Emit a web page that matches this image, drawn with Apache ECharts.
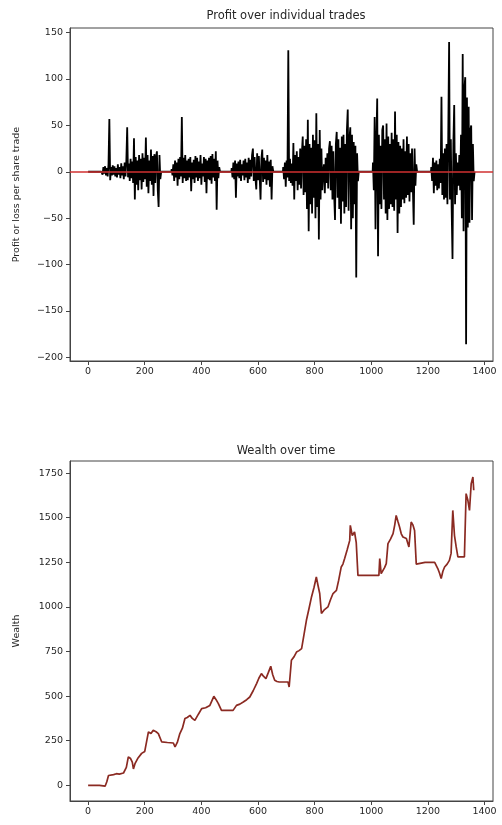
<!DOCTYPE html>
<html><head><meta charset="utf-8">
<script src="https://cdn.jsdelivr.net/npm/echarts@6/dist/echarts.min.js"></script>
<style>html,body{margin:0;padding:0;background:#fff}#c{width:502px;height:825px}</style>
</head><body><div id="c"></div>
<script>
// ---- tick labels ----
const xTicks = [0, 200, 400, 600, 800, 1000, 1200, 1400];
const profitTicks = [-200, -150, -100, -50, 0, 50, 100, 150];
const wealthTicks = [0, 250, 500, 750, 1000, 1250, 1500, 1750];

// ---- profit per trade (clusters of trades, one value every 3 trade numbers) ----
const clusterStart = [48, 295, 507, 689, 833, 1006, 1212];
const tradeStep = 3;
const clusterA = [2,-3,5,-2,6,-4,4,-5,8,57,-9,5,-4,7,-3,6,-5,4,-6,8,-3,5,-7,9,-4,6,-8,10,-5,12,48,-6,9,-10,14,-7,11,-12,36,-30,16,-14,12,-20,18,-9,14,-19,20,-11,15,-8,37,-16,18,-23,12,-10,24,-14,17,-26,19,-12,16,22,-20,-38,18,-8];
const clusterB = [3,-4,8,-10,12,-6,10,-15,14,-8,16,-5,59,-12,15,-7,18,-10,12,-9,14,-6,16,-21,10,-8,13,-12,17,-6,15,-10,11,-7,18,-14,9,-5,16,-11,14,-23,12,-8,15,-9,17,-13,19,-6,14,-10,22,-41,12,-7,5];
const clusterC = [4,-6,10,-8,12,-28,9,-5,11,-7,13,-10,8,-4,12,-9,14,-6,10,-12,15,-8,13,-5,18,25,-10,16,-7,-19,20,-9,17,-6,-30,14,24,-11,15,-8,12,-14,18,-9,11,-16,13,-30,6];
const clusterD = [5,-8,10,-16,12,-6,131,-10,14,-12,9,-15,31,-30,18,-10,22,-20,16,-14,25,-18,20,38,-25,28,-22,35,-40,56,-64,30,-35,26,-45,40,-28,34,-50,63,-38,30,-73,45,-30,25,-20];
const clusterE = [8,-23,15,-12,20,-18,25,33,-20,28,-30,22,-25,-52,30,43,-28,35,-40,26,-56,38,-32,40,-45,30,-38,45,67,-42,35,48,-62,40,-50,32,-35,28,-114,20,-10];
const clusterF = [10,-20,59,-62,30,79,-91,40,-35,28,-40,45,50,-30,35,-45,52,-52,38,-40,30,-35,42,-38,35,-42,65,-30,40,-66,32,-45,28,-38,25,-30,35,-34,22,-28,38,-25,30,-32,20,-22,25,-18,-57,25,-15,8];
const clusterG = [5,-10,15,-23,10,-15,12,-20,8,-18,14,-12,81,-25,20,-30,25,-28,30,-35,40,140,-30,35,-40,-94,30,72,-35,20,-25,10,-15,18,-20,40,-50,127,-64,90,102,-186,80,-60,70,-55,45,50,-52,30,-10];
const lastTrade = 1364;

// ---- wealth over time ----
const wealthX = [0,40,60,66,72,77,90,100,110,125,135,142,150,156,160,166,175,189,200,213,222,230,240,248,260,280,301,307,315,324,333,342,350,360,368,377,390,401,415,430,444,452,460,471,490,512,524,536,548,560,571,583,595,603,612,620,628,636,645,652,659,667,675,690,706,710,718,727,736,745,754,762,771,780,789,798,806,812,818,824,835,847,856,865,877,885,894,900,906,915,924,926,933,941,947,953,990,1027,1030,1035,1041,1047,1053,1059,1068,1077,1083,1088,1094,1100,1106,1112,1118,1124,1133,1141,1147,1153,1159,1190,1224,1235,1241,1247,1253,1259,1268,1276,1282,1288,1294,1300,1306,1329,1335,1341,1347,1353,1359,1362];
const wealthY = [0,0,-5,20,55,62,60,65,63,69,100,159,150,130,92,123,150,179,190,299,290,308,300,290,243,240,237,215,240,290,320,374,380,392,375,364,400,430,435,448,499,480,458,420,420,420,448,455,467,480,495,530,570,600,626,610,598,630,667,620,589,582,579,579,579,551,701,720,747,755,766,840,925,990,1056,1110,1168,1120,1075,963,985,1000,1040,1075,1093,1150,1224,1240,1271,1320,1373,1457,1400,1420,1360,1177,1177,1177,1271,1187,1187,1220,1243,1355,1380,1411,1460,1513,1480,1448,1410,1392,1400,1383,1336,1476,1460,1429,1240,1250,1250,1215,1190,1159,1200,1224,1240,1261,1300,1541,1400,1336,1280,1280,1635,1600,1541,1691,1728,1654];

// ---- build series data ----
const clusters = [clusterA, clusterB, clusterC, clusterD, clusterE, clusterF, clusterG];
const profitData = [[0, 0]];
clusters.forEach((vals, k) => {
  const s = clusterStart[k];
  profitData.push([s - 1, 0]);
  vals.forEach((v, i) => profitData.push([s + i * tradeStep, v]));
  profitData.push([s + vals.length * tradeStep, 0]);
});
profitData.push([lastTrade, 0]);
const wealthData = wealthX.map((x, i) => [x, wealthY[i]]);

const FONT = 'DejaVu Sans';
const axisText = { color: '#262626', fontFamily: FONT, fontSize: 9.5, formatter: v => String(v).replace('-', '\u2212') };

function xAxisCfg(gi) {
  return {
    type: 'value', gridIndex: gi, min: -64, max: 1430,
    axisLine: { show: true, onZero: false, lineStyle: { color: '#444', width: 1 } },
    splitLine: { show: false },
    axisTick: { show: true, length: 4, customValues: xTicks, lineStyle: { color: '#444' } },
    axisLabel: Object.assign({ margin: 6, customValues: xTicks }, axisText)
  };
}
function yAxisCfg(gi, min, max, ticks, name, gap) {
  return {
    type: 'value', gridIndex: gi, min: min, max: max,
    name: name, nameLocation: 'middle', nameRotate: 90, nameGap: gap,
    nameTextStyle: { color: '#262626', fontFamily: FONT, fontSize: 9.5 },
    axisLine: { show: true, onZero: false, lineStyle: { color: '#444', width: 1 } },
    splitLine: { show: false },
    axisTick: { show: true, length: 4, customValues: ticks, lineStyle: { color: '#444' } },
    axisLabel: Object.assign({ margin: 7, customValues: ticks }, axisText)
  };
}

const chart = echarts.init(document.getElementById('c'), null, { renderer: 'canvas' });
chart.setOption({
  animation: false,
  backgroundColor: '#fff',
  title: [
    { text: 'Profit over individual trades', left: 281, top: 5, textAlign: 'center',
      textStyle: { fontFamily: FONT, fontSize: 11.5, fontWeight: 'normal', color: '#262626' } },
    { text: 'Wealth over time', left: 281, top: 440, textAlign: 'center',
      textStyle: { fontFamily: FONT, fontSize: 11.5, fontWeight: 'normal', color: '#262626' } }
  ],
  grid: [
    { left: 70, top: 28, width: 423, height: 333, show: true, borderColor: '#444', borderWidth: 1, backgroundColor: 'transparent' },
    { left: 70, top: 461, width: 423, height: 340, show: true, borderColor: '#444', borderWidth: 1, backgroundColor: 'transparent' }
  ],
  xAxis: [xAxisCfg(0), xAxisCfg(1)],
  yAxis: [
    yAxisCfg(0, -204, 155, profitTicks, 'Profit or loss per share trade', 48),
    yAxisCfg(1, -88, 1818, wealthTicks, 'Wealth', 48)
  ],
  series: [
    {
      type: 'line', xAxisIndex: 0, yAxisIndex: 0, data: profitData,
      showSymbol: false, symbol: 'none',
      lineStyle: { color: '#000', width: 1.8 },
      markLine: {
        silent: true, symbol: ['none', 'none'], label: { show: false },
        lineStyle: { color: '#d03030', width: 1.6, type: 'solid' },
        data: [{ yAxis: 0 }]
      }
    },
    {
      type: 'line', xAxisIndex: 1, yAxisIndex: 1, data: wealthData,
      showSymbol: false, symbol: 'none',
      lineStyle: { color: '#8b2a22', width: 1.7 }
    }
  ]
});
</script>
</body></html>
